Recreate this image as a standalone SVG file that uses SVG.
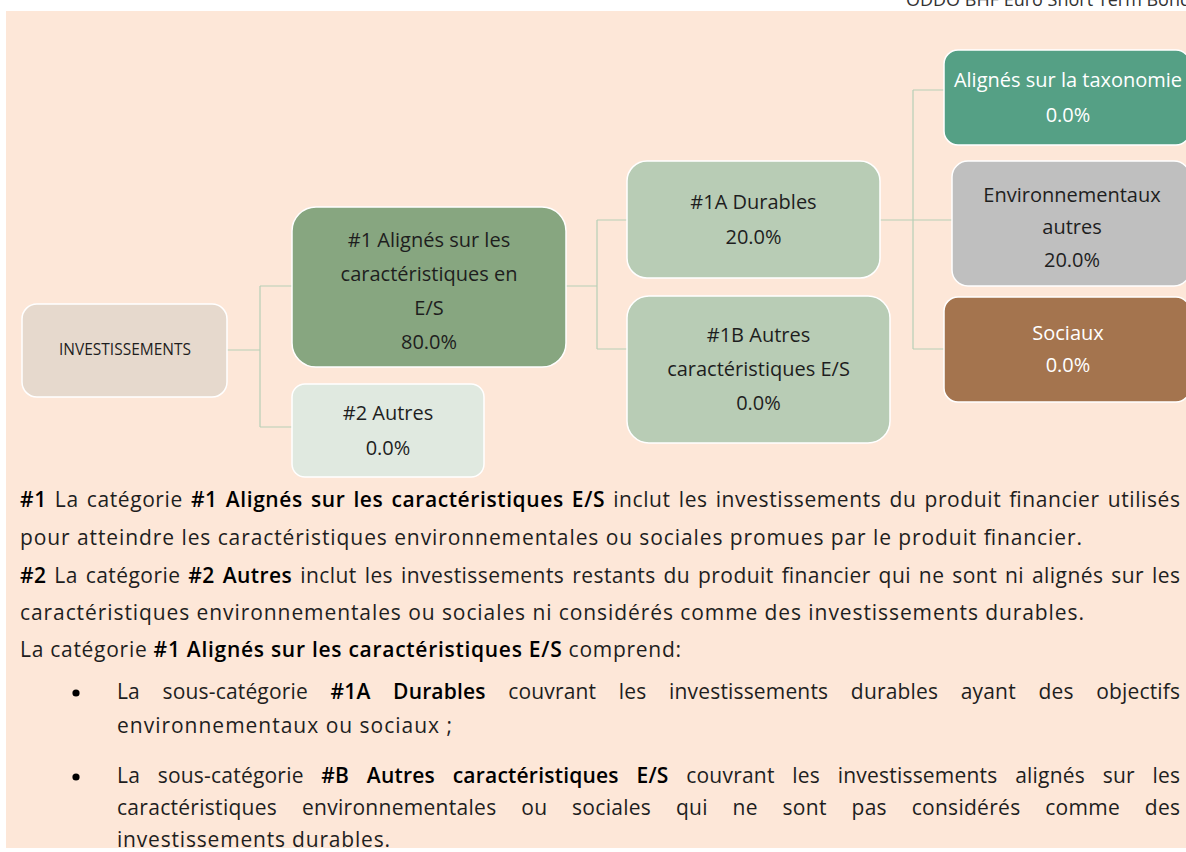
<svg xmlns="http://www.w3.org/2000/svg" width="1186" height="852" viewBox="0 0 1186 852">
<style>
.n{stroke:#ffffff;stroke-width:1.5}
.t{font-family:"Open Sans","Noto Sans","DejaVu Sans",sans-serif;font-size:20px;text-anchor:middle;fill:#1e1e1e}
.w{fill:#ffffff}
.b{font-family:"Open Sans","Noto Sans","DejaVu Sans",sans-serif;font-size:21px;fill:#1e1e1e}
.k{font-weight:600;fill:#000}
.c{fill:none;stroke:#b7cfb6;stroke-width:1.2}
</style>
<rect x="0" y="0" width="1186" height="852" fill="#ffffff"/>
<text x="906" y="6" style="font-family:'Open Sans','Noto Sans',sans-serif;font-size:18px;fill:#333">ODDO BHF Euro Short Term Bond</text>
<rect x="6" y="11" width="1180" height="837" fill="#fde7d8"/>

<g id="connectors">
<path class="c" d="M227 350 H260 M260 286 V427 M260 286 H292 M260 427 H292"/>
<path class="c" d="M566 286 H597 M597 220 V349 M597 220 H627 M597 349 H627"/>
<path class="c" d="M880 220 H952 M913 90 V349 M913 90 H944 M913 349 H944"/>
</g>

<g id="investissements">
<rect class="n" x="22" y="304" width="205" height="93" rx="15" fill="#e6d9cd"/>
<text class="t" x="125" y="355" style="font-size:15.5px">INVESTISSEMENTS</text>
</g>
<g id="n1">
<rect class="n" x="292" y="207" width="274" height="160" rx="24" fill="#87a680"/>
<text class="t" x="429" y="247">#1 Alignés sur les</text>
<text class="t" x="429" y="281">caractéristiques en</text>
<text class="t" x="429" y="315">E/S</text>
<text class="t" x="429" y="349">80.0%</text>
</g>
<g id="n2">
<rect class="n" x="292" y="384" width="192" height="93" rx="13" fill="#e0e9e0"/>
<text class="t" x="388" y="420">#2 Autres</text>
<text class="t" x="388" y="455">0.0%</text>
</g>
<g id="n1a">
<rect class="n" x="627" y="161" width="253" height="117" rx="20" fill="#b8ccb5"/>
<text class="t" x="753.5" y="209">#1A Durables</text>
<text class="t" x="753.5" y="244">20.0%</text>
</g>
<g id="n1b">
<rect class="n" x="627" y="296" width="263" height="147" rx="22" fill="#b8ccb5"/>
<text class="t" x="758.5" y="342">#1B Autres</text>
<text class="t" x="758.5" y="376">caractéristiques E/S</text>
<text class="t" x="758.5" y="410">0.0%</text>
</g>
<g id="taxonomie">
<rect class="n" x="944" y="50" width="246" height="95" rx="14" fill="#55a085"/>
<text class="t w" x="1068" y="87">Alignés sur la taxonomie</text>
<text class="t w" x="1068" y="122">0.0%</text>
</g>
<g id="environnementaux">
<rect class="n" x="952" y="161" width="238" height="125" rx="16" fill="#bfbfbf"/>
<text class="t" x="1072" y="202">Environnementaux</text>
<text class="t" x="1072" y="234">autres</text>
<text class="t" x="1072" y="267">20.0%</text>
</g>
<g id="sociaux">
<rect class="n" x="944" y="297" width="246" height="105" rx="14" fill="#a4744e"/>
<text class="t w" x="1068" y="340">Sociaux</text>
<text class="t w" x="1068" y="372">0.0%</text>
</g>

<g id="legend">
<text class="b" x="20" y="507" style="word-spacing:2px" textLength="1160" lengthAdjust="spacing"><tspan class="k">#1</tspan> La catégorie <tspan class="k">#1 Alignés sur les caractéristiques E/S</tspan> inclut les investissements du produit financier utilisés</text>
<text class="b" x="20" y="545" textLength="1062" lengthAdjust="spacing">pour atteindre les caractéristiques environnementales ou sociales promues par le produit financier.</text>
<text class="b" x="20" y="583" style="word-spacing:2px" textLength="1160" lengthAdjust="spacing"><tspan class="k">#2</tspan> La catégorie <tspan class="k">#2 Autres</tspan> inclut les investissements restants du produit financier qui ne sont ni alignés sur les</text>
<text class="b" x="20" y="620" textLength="1064" lengthAdjust="spacing">caractéristiques environnementales ou sociales ni considérés comme des investissements durables.</text>
<text class="b" x="20" y="657" textLength="661" lengthAdjust="spacing">La catégorie <tspan class="k">#1 Alignés sur les caractéristiques E/S</tspan> comprend:</text>
<circle cx="76" cy="693" r="3.6" fill="#000"/>
<text class="b" x="117" y="699" style="word-spacing:17px" textLength="1063" lengthAdjust="spacing">La sous-catégorie <tspan class="k">#1A Durables</tspan> couvrant les investissements durables ayant des objectifs</text>
<text class="b" x="117" y="733" textLength="335" lengthAdjust="spacing">environnementaux ou sociaux ;</text>
<circle cx="76" cy="777" r="3.6" fill="#000"/>
<text class="b" x="117" y="783" style="word-spacing:12px" textLength="1063" lengthAdjust="spacing">La sous-catégorie <tspan class="k">#B Autres caractéristiques E/S</tspan> couvrant les investissements alignés sur les</text>
<text class="b" x="117" y="815" style="word-spacing:19px" textLength="1063" lengthAdjust="spacing">caractéristiques environnementales ou sociales qui ne sont pas considérés comme des</text>
<text class="b" x="117" y="847" textLength="273" lengthAdjust="spacing">investissements durables.</text>
</g>
</svg>
